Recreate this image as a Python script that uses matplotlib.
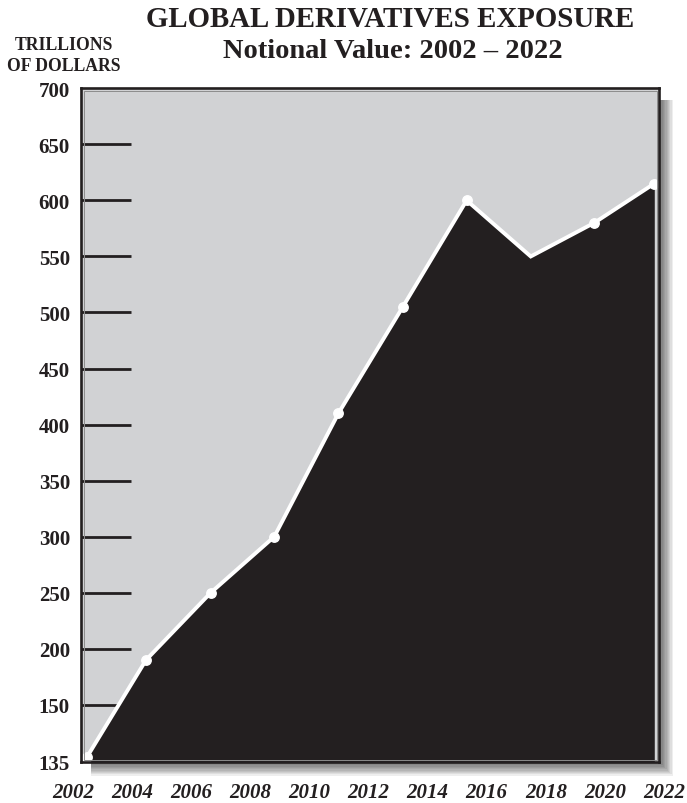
import numpy as np
import matplotlib
matplotlib.use("Agg")
import matplotlib.pyplot as plt
from matplotlib.patches import Rectangle

# ---- data ----
point_years = [2002.47, 2004.47, 2006.66, 2008.81, 2010.98, 2013.16, 2015.32, 2017.49, 2019.64, 2021.67]
values = [135, 190, 250, 300, 410, 505, 600, 550, 580, 615]
marker_idx = [0, 1, 2, 3, 4, 5, 6, 8, 9]
year_labels = ["2002", "2004", "2006", "2008", "2010", "2012", "2014", "2016", "2018", "2020", "2022"]
label_years = [2002, 2004, 2006, 2008, 2010, 2012, 2014, 2016, 2018, 2020, 2022]
ytick_vals = [150, 200, 250, 300, 350, 400, 450, 500, 550, 600, 650, 700]
title1 = "GLOBAL DERIVATIVES EXPOSURE"
title2 = "Notional Value: 2002 \u2013 2022"
unit1 = "TRILLIONS"
unit2 = "OF DOLLARS"

DARK = "#231f20"
GRAY = "#d1d2d4"
SERIF = "Liberation Serif"

W, H = 687, 804
fig = plt.figure(figsize=(W / 100, H / 100), dpi=100)
fx = lambda px: px / W
fy = lambda py: 1 - py / H

L, R, T, B = 81, 659.3, 89.3, 763
ax = fig.add_axes([fx(L), fy(B), (R - L) / W, (B - T) / H])
ax.set_zorder(5)

# drop shadow (right and bottom only)
for k in range(10):
    ext = 2 + k * 1.3
    left, top = L + 10, T + 12
    right, bottom = R + ext, B + ext
    rect = Rectangle((fx(left), fy(bottom)), (right - left) / W, (bottom - top) / H,
                     transform=fig.transFigure, facecolor="black",
                     edgecolor="none", alpha=0.065, zorder=-1)
    fig.patches.append(rect)

# piecewise scale: compressed below 150
K = 3.11
def fwd(y):
    y = np.asarray(y, dtype=float)
    return np.where(y >= 150, y, 150 - (150 - y) * K)
def inv(z):
    z = np.asarray(z, dtype=float)
    return np.where(z >= 150, z, 150 - (150 - z) / K)
ax.set_yscale("function", functions=(fwd, inv))

ybottom = 133.6
ax.set_ylim(ybottom, 700)
ax.set_xlim(2002.27, 2021.84)
ax.set_facecolor(GRAY)

# internal tick bars
ax.hlines(ytick_vals[:-1], 0, 50 / (R - L), transform=ax.get_yaxis_transform(),
          color=DARK, lw=2.0, zorder=1)

ax.fill_between(point_years, values, ybottom, color=DARK, zorder=2, lw=0)
ax.plot(point_years, values, color="white", lw=2.8, zorder=3,
        solid_joinstyle="miter", clip_on=False)
ax.plot([point_years[i] for i in marker_idx], [values[i] for i in marker_idx],
        "o", color="white", ms=6.8, zorder=4, clip_on=False)

# inner light line along frame
inner = Rectangle((2.5 / (R - L), 2.5 / (B - T)), 1 - 5 / (R - L), 1 - 5 / (B - T),
                  transform=ax.transAxes, facecolor="none", edgecolor="#8c8c8c",
                  lw=0.7, zorder=5)
ax.add_patch(inner)

for s in ax.spines.values():
    s.set_color(DARK)
    s.set_linewidth(1.9)
    s.set_zorder(6)

ax.set_xticks([])
ax.set_yticks([ybottom] + ytick_vals)
ax.set_yticklabels(["135"] + [str(v) for v in ytick_vals])
ax.tick_params(axis="y", length=0, pad=8)
for t in ax.get_yticklabels():
    t.set_fontfamily(SERIF)
    t.set_fontweight("bold")
    t.set_fontsize(15)
    t.set_color(DARK)

xtrans = ax.get_xaxis_transform()
for yr, lab in zip(label_years, year_labels):
    ax.text(yr, -35 / (B - T), lab, transform=xtrans, ha="center", va="baseline",
            fontfamily=SERIF, fontweight="bold", fontstyle="italic", fontsize=15,
            color=DARK, clip_on=False)

fig.text(fx(390), fy(27), title1, ha="center", va="baseline", fontfamily=SERIF,
         fontweight="bold", fontsize=20.8, color=DARK)
fig.text(fx(393), fy(58), title2, ha="center", va="baseline", fontfamily=SERIF,
         fontweight="bold", fontsize=20.5, color=DARK)
fig.text(fx(64), fy(50), unit1, ha="center", va="baseline", fontfamily=SERIF,
         fontweight="bold", fontsize=12.7, color=DARK)
fig.text(fx(64), fy(71), unit2, ha="center", va="baseline", fontfamily=SERIF,
         fontweight="bold", fontsize=12.7, color=DARK)

fig.savefig("out.png", dpi=100)
